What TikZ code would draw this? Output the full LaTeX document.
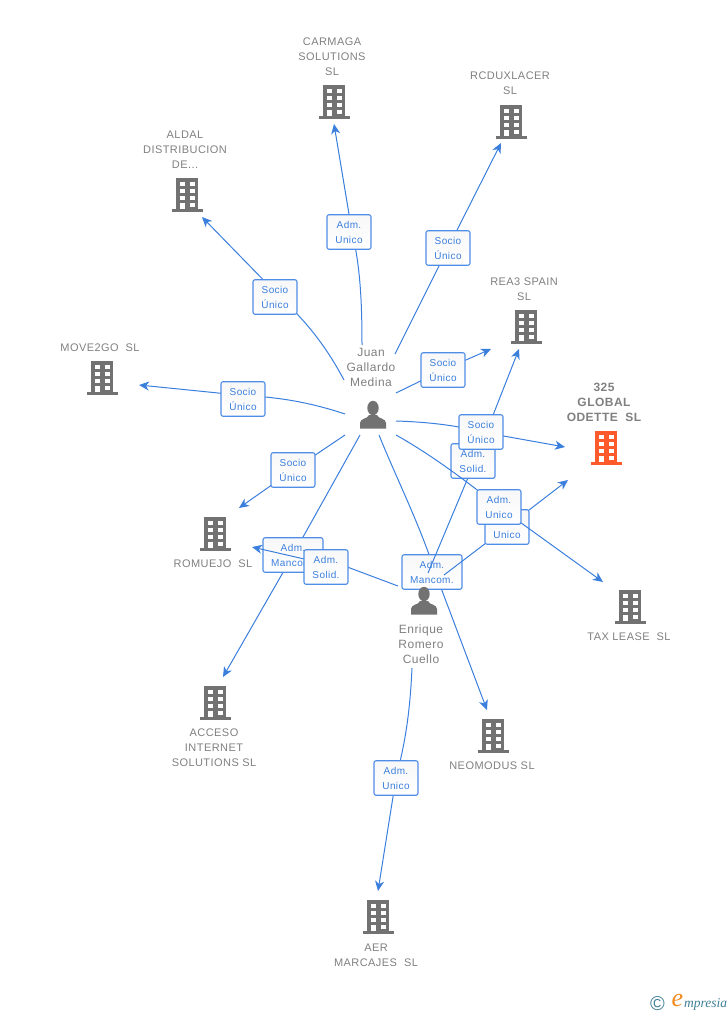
\documentclass[tikz,border=0pt]{standalone}
\usepackage{fontspec}
\setmainfont{Liberation Sans}
\newfontfamily\captionfont[LetterSpace=4]{Liberation Sans}
\newfontfamily\logofont{Liberation Serif}
\usetikzlibrary{arrows.meta,positioning}
\definecolor{linkblue}{HTML}{3B7FDD}
\definecolor{boxblue}{HTML}{4F8DE6}
\definecolor{icongrey}{HTML}{727272}
\definecolor{textgrey}{HTML}{808080}
\definecolor{hotred}{HTML}{FF5A2B}
\definecolor{logoteal}{HTML}{3F7F96}
\definecolor{logoorange}{HTML}{F08A1D}

\begin{document}
\begin{tikzpicture}
			[x=1pt, y=-1pt, inner sep=0pt,
			link/.style		= {draw=linkblue, line width=1pt},
			arrowlink/.style	= {link, -{Stealth[length=10pt,width=9pt,inset=3pt]}},
			role/.style		= {draw=boxblue, line width=1.1pt, rounded corners=2pt, top color=black!3, bottom color=white, text=linkblue, minimum width=44pt, minimum height=34.5pt, align=center, font=\fontsize{10}{15}\selectfont\captionfont},
			widerole/.style	= {role, minimum width=60pt},
			caption/.style	= {text=textgrey, align=center, font=\fontsize{11}{15}\selectfont\captionfont},
			personname/.style	= {caption, font=\fontsize{12}{15}\selectfont\captionfont},
			building/.pic = {
				\fill [pic actions] (-11,-17) rectangle (11,14);
				\fill [pic actions] (-15,14) rectangle (16,17);
				\foreach \rowy in {-13,-6,1}
					{\fill [white] (-7.5,\rowy) rectangle +(5,4);
					 \fill [white] (2.5,\rowy) rectangle +(5,4);}
				\fill [white] (-7.5,7.5) rectangle (-2.5,14);
				\fill [white] (2.5,7.5) rectangle +(5,4);
			},
			person/.pic = {
				\fill [icongrey] (0,-7) ellipse (5.7 and 7.2);
				\fill [icongrey] (-13,13.5) -- (-13,8) .. controls (-13,3) and (-5,4) .. (-4,0)
					-- (4,0) .. controls (5,4) and (13,3) .. (13,8) -- (13,13.5) -- cycle;
			}]

			\useasboundingbox (0,0) rectangle (728,1015);

			% free ends of the links
			\coordinate (j1)	at (344,380);	\coordinate (aldalend)		at (202,217);
			\coordinate (j2)	at (362,345);	\coordinate (carmagaend)	at (334,124);
			\coordinate (j3)	at (395,354);	\coordinate (rcduxend)		at (501,143);
			\coordinate (j4)	at (396,393);	\coordinate (reaend)		at (491,349);
			\coordinate (j5)	at (345,414);	\coordinate (moveend)		at (139,385);
			\coordinate (j6)	at (396,421);	\coordinate (globalend)		at (565,447);
			\coordinate (j7)	at (345,435);	\coordinate (romuejoend)	at (239,508);
			\coordinate (j8)	at (360,435);	\coordinate (accesoend)		at (223,677);
			\coordinate (j9)	at (379,435);	\coordinate (neomodusend)	at (487,710);
			\coordinate (j10)	at (396,435);	\coordinate (taxend)		at (603,582);
			\coordinate (e1)	at (412,668);	\coordinate (aerend)		at (378,891);
			\coordinate (e2)	at (398,586);	\coordinate (romuejoendb)	at (252,547);
			\coordinate (e3)	at (428,573);	\coordinate (reaendb)		at (519,349);
			\coordinate (e4)	at (444,575);	\coordinate (globalendb)	at (568,480);

			% links under the mancom boxes
			\coordinate (acesopos) at (293,555);
			\draw [link] (j8) -- (acesopos);
			\draw [arrowlink] (acesopos) -- (accesoend);
			\node [widerole] at (293,555) (acceso) {Adm.\\Mancom.};

			\coordinate (neopos) at (435,572);
			\draw [link] (j9) .. controls (395,475) and (420,525) .. (neopos);
			\draw [arrowlink] (neopos) -- (neomodusend);
			\node [widerole] at (432,572) (neomodus) {Adm.\\Mancom.};

			% Enrique
			\coordinate (aerpos) at (396,778);
			\draw [link] (e1) .. controls (410,710) and (406,740) .. (aerpos);
			\draw [arrowlink] (aerpos) -- (aerend);
			\node [role] at (396,778) (aer) {Adm.\\Unico};

			\coordinate (solidin) at (326,559);
			\coordinate (solidout) at (326,564);
			\draw [link] (e2) -- (solidin);
			\draw [arrowlink] (solidout) -- (romuejoendb);
			\node [role] at (326,567) (solid) {Adm.\\Solid.};

			\coordinate (reapos) at (475,461);
			\draw [link] (e3) -- (reapos);
			\draw [arrowlink] (reapos) -- (reaendb);
			\node [role] at (473,461) (reasolid) {Adm.\\Solid.};

			\coordinate (unicopos) at (507,527);
			\draw [link] (e4) -- (unicopos);
			\draw [arrowlink] (unicopos) -- (globalendb);
			\node [role] at (507,527) (unico) {\phantom{Adm.}\\Unico};

			% Juan
			\coordinate (aldalpos) at (280,297);
			\draw [link] (j1) .. controls (328,350) and (310,325) .. (aldalpos);
			\draw [arrowlink] (aldalpos) -- (aldalend);
			\node [role] at (275,297) (aldal) {Socio\\Único};

			\coordinate (carmagapos) at (352,232);
			\draw [link] (j2) .. controls (362,300) and (360,265) .. (carmagapos);
			\draw [arrowlink] (carmagapos) -- (carmagaend);
			\node [role] at (349,232) (carmaga) {Adm.\\Unico};

			\coordinate (rcduxpos) at (448,248);
			\draw [link] (j3) -- (rcduxpos);
			\draw [arrowlink] (rcduxpos) -- (rcduxend);
			\node [role] at (448,248) (rcdux) {Socio\\Único};

			\coordinate (reasociopos) at (443,370);
			\draw [link] (j4) -- (reasociopos);
			\draw [arrowlink] (reasociopos) -- (reaend);
			\node [role] at (443,370) (reasocio) {Socio\\Único};

			\coordinate (movepos) at (243,395.5);
			\draw [link] (j5) .. controls (312,403) and (280,397) .. (movepos);
			\draw [arrowlink] (movepos) -- (moveend);
			\node [role] at (243,399) (move) {Socio\\Único};

			\coordinate (globalpos) at (481,432);
			\draw [link] (j6) .. controls (430,422) and (460,426) .. (globalpos);
			\draw [arrowlink] (globalpos) -- (globalend);
			\node [role] at (481,432) (global) {Socio\\Único};

			\coordinate (romuejopos) at (293,470);
			\draw [link] (j7) -- (romuejopos);
			\draw [arrowlink] (romuejopos) -- (romuejoend);
			\node [role] at (293,470) (romuejo) {Socio\\Único};

			\coordinate (taxpos) at (499,507);
			\draw [link] (j10) .. controls (430,454) and (465,480) .. (taxpos);
			\draw [arrowlink] (taxpos) -- (taxend);
			\node [role] at (499,507) (tax) {Adm.\\Unico};

			% people
			\pic at (373,415) {person};
			\pic at (424,601) {person};
			\node [personname] at (371,367) (juanname)	{Juan\\Gallardo\\Medina};
			\node [personname] at (421,644) (enriquename)	{Enrique\\Romero\\Cuello};

			% companies
			\pic [icongrey] at (334,102) {building};
			\pic [icongrey] at (511,122) {building};
			\pic [icongrey] at (526,327) {building};
			\pic [icongrey] at (187,195) {building};
			\pic [icongrey] at (102,378) {building};
			\pic [hotred]	at (606,448) {building};
			\pic [icongrey] at (215,534) {building};
			\pic [icongrey] at (630,607) {building};
			\pic [icongrey] at (215,703) {building};
			\pic [icongrey] at (493,736) {building};
			\pic [icongrey] at (378,917) {building};

			\node [caption] at (332,56.7) (carmaganame)	{CARMAGA\\SOLUTIONS\\SL};
			\node [caption] at (510,83.2) (rcduxname)	{RCDUXLACER\\SL};
			\node [caption] at (524,289.2) (reaname)	{REA3 SPAIN\\SL};
			\node [caption] at (185,149.7) (aldalname)	{ALDAL\\DISTRIBUCION\\DE...};
			\node [caption] at (100,347.7) (movename)	{MOVE2GO\ \ SL};
			\node [caption, font=\fontsize{12}{15}\selectfont\captionfont\bfseries] at (604,402.2) (globalname) {325\\GLOBAL\\ODETTE\ \ SL};
			\node [caption] at (213,563.7) (romuejoname)	{ROMUEJO\ \ SL};
			\node [caption] at (629,636.7) (taxname)	{TAX LEASE\ \ SL};
			\node [caption] at (214,747.7) (accesoname)	{ACCESO\\INTERNET\\SOLUTIONS SL};
			\node [caption] at (492,765.7) (neomodusname)	{NEOMODUS SL};
			\node [caption] at (376,955.2) (aername)	{AER\\MARCAJES\ \ SL};

			% logo
			\node [text=logoteal, font=\fontsize{20}{20}\selectfont] at (657.5,1004) (copyright) {©};
			\node [text=logoorange, font=\fontsize{26}{26}\selectfont\logofont\itshape] at (677.5,1000) (logoe) {e};
			\node [text=logoteal, anchor=west, font=\fontsize{13.5}{14}\selectfont\logofont\itshape] at (684,1004.5) (logoname) {mpresia};
			\end{tikzpicture}
\end{document}
